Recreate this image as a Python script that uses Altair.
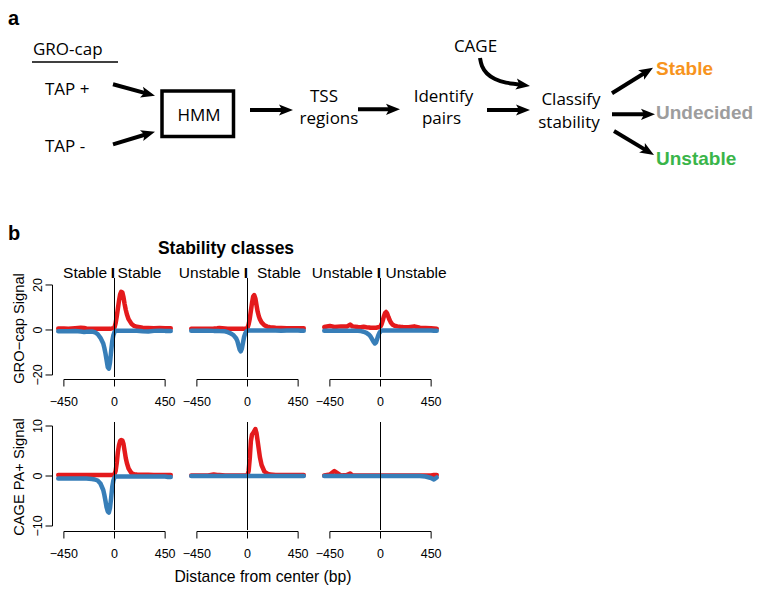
import math
import altair as alt
import pandas as pd

FONT_A = "Open Sans"
FONT_B = "Liberation Sans"
RED = "#E41A1C"
BLUE = "#377EB8"

# ---------------- panel a : flow diagram (figure pixel coordinates) ----------------
panel_letters = ["a", "b"]
panel_letter_x = [8, 8]
panel_letter_y = [25, 240]

left_labels = ["GRO-cap", "TAP +", "TAP -"]
left_label_x = [33, 45, 45]
left_label_y = [55, 95, 152]

center_labels = ["HMM", "TSS", "regions", "Identify", "pairs", "CAGE", "Classify", "stability"]
center_label_x = [199, 324, 329, 443.5, 441.5, 475.5, 571, 569]
center_label_y = [121, 102, 124, 101.5, 124, 51.5, 105, 128]

outcome_labels = ["Stable", "Undecided", "Unstable"]
outcome_colors = ["#F7941D", "#9D9D9D", "#3AB54A"]
outcome_x = [656, 656, 656]
outcome_y = [74.5, 119, 165]

arrow_x0 = [113, 113, 250, 358, 487, 612, 612, 614]
arrow_y0 = [84.3, 144.3, 110, 109.3, 110, 93.3, 114.3, 131]
arrow_x1 = [155, 155, 293, 400, 530, 653, 655, 654]
arrow_y1 = [95.7, 131.7, 110, 109.3, 110, 67.7, 114.3, 155]

curve_x = [480, 482, 487, 495, 506, 530]
curve_y = [58, 66, 73.5, 79, 82.6, 86]

box_x = [162, 233.5]
box_y = [91, 136.5]
underline_x = [32, 118]
underline_y = [62]

heading = ["Stability classes"]
heading_x = [226]
heading_y = [254]

# ---------------- panel b : signal profiles ----------------
positions = [-500, -450, -410, -350, -300, -270, -250, -200, -175, -150, -125,
             -100, -90, -80, -70, -60, -50, -40, -30, -20, -10,
             0, 10, 20, 30, 40, 50, 60, 70, 80, 90,
             100, 110, 125, 150, 175, 200, 250, 300, 350, 400, 450, 475, 500]

gro_ss_plus = [0.7, 0.7, 0.6, 0.8, 1.0, 0.9, 0.7, 0.6, 0.6, 0.5, 0.5,
               0.5, 0.5, 0.5, 0.5, 0.5, 0.5, 0.5, 0.6, 0.7, 0.8,
               1.2, 3.0, 6.0, 9.5, 13.0, 15.8, 17.0, 16.6, 14.5, 11.5,
               9.0, 7.0, 4.8, 2.8, 1.8, 1.4, 1.0, 0.9, 0.8, 0.9, 0.8, 0.8, 0.8]
gro_ss_minus = [-0.6, -0.6, -0.6, -0.5, -0.7, -0.9, -0.8, -0.7, -1.0, -1.8, -3.5,
                -6.0, -8.0, -10.5, -13.5, -16.5, -17.2, -14.5, -9.5, -5.0, -2.3,
                -0.9, -0.4, -0.3, -0.3, -0.3, -0.3, -0.3, -0.3, -0.3, -0.3,
                -0.3, -0.3, -0.3, -0.3, -0.3, -0.3, -0.6, -0.7, -0.4, -0.3, -0.4, -0.4, -0.4]
gro_us_plus = [0.5, 0.5, 0.5, 0.6, 0.7, 0.8, 0.9, 0.7, 0.6, 0.6, 0.6,
               0.5, 0.5, 0.5, 0.5, 0.5, 0.5, 0.5, 0.6, 0.6, 0.7,
               1.0, 2.5, 5.0, 8.5, 12.0, 14.8, 15.5, 14.0, 11.0, 8.2,
               6.2, 4.8, 3.4, 2.1, 1.5, 1.2, 1.0, 0.9, 0.8, 0.8, 0.8, 0.8, 0.8]
gro_us_minus = [-0.3, -0.3, -0.3, -0.3, -0.4, -0.4, -0.5, -0.6, -1.0, -1.5, -2.3,
                -3.8, -5.0, -6.8, -8.7, -9.5, -8.3, -5.6, -3.0, -1.5, -0.7,
                -0.3, -0.2, -0.2, -0.2, -0.2, -0.2, -0.2, -0.2, -0.2, -0.2,
                -0.2, -0.2, -0.2, -0.2, -0.2, -0.2, -0.2, -0.3, -0.2, -0.2, -0.2, -0.3, -0.3]
gro_uu_plus = [1.3, 1.8, 1.3, 1.6, 1.5, 2.4, 1.6, 1.3, 1.2, 1.4, 1.2,
               1.1, 1.0, 1.0, 1.0, 1.0, 1.0, 1.0, 1.1, 1.2, 1.3,
               1.6, 2.6, 4.2, 6.0, 7.5, 8.0, 7.2, 5.8, 4.5, 3.5,
               2.8, 2.3, 1.9, 1.6, 1.4, 1.3, 1.2, 1.6, 1.0, 0.9, 0.8, 0.7, 0.6]
gro_uu_minus = [-0.3, -0.3, -0.3, -0.3, -0.3, -0.3, -0.3, -0.4, -0.5, -0.8, -1.3,
                -2.2, -2.8, -3.6, -4.5, -5.4, -6.0, -5.6, -4.0, -2.4, -1.3,
                -0.6, -0.3, -0.2, -0.2, -0.2, -0.2, -0.2, -0.2, -0.2, -0.2,
                -0.2, -0.2, -0.2, -0.2, -0.2, -0.2, -0.2, -0.2, -0.2, -0.2, -0.2, -0.3, -0.3]

cage_ss_plus = [0.2, 0.2, 0.2, 0.2, 0.2, 0.2, 0.2, 0.2, 0.2, 0.2, 0.2,
                0.2, 0.2, 0.2, 0.2, 0.2, 0.2, 0.2, 0.2, 0.2, 0.2,
                0.4, 1.0, 2.6, 4.8, 6.2, 7.0, 7.2, 7.1, 6.4, 5.0,
                3.6, 2.6, 1.5, 0.6, 0.35, 0.3, 0.25, 0.25, 0.2, 0.2, 0.2, 0.2, 0.2]
cage_ss_minus = [-0.5, -0.5, -0.5, -0.5, -0.5, -0.5, -0.5, -0.6, -0.7, -0.9, -1.5,
                 -2.8, -3.8, -5.0, -6.3, -7.1, -7.3, -6.4, -4.4, -2.2, -0.9,
                 -0.3, -0.1, -0.1, -0.1, -0.1, -0.1, -0.1, -0.1, -0.1, -0.1,
                 -0.1, -0.1, -0.1, -0.1, -0.1, -0.1, -0.1, -0.1, -0.1, -0.1, -0.1, -0.2, -0.2]
cage_us_plus = [0.1, 0.1, 0.1, 0.1, 0.3, 0.2, 0.2, 0.1, 0.1, 0.1, 0.1,
                0.1, 0.1, 0.1, 0.1, 0.1, 0.1, 0.1, 0.1, 0.1, 0.1,
                0.2, 1.0, 3.5, 7.0, 8.3, 8.6, 9.0, 9.4, 8.6, 7.0,
                5.4, 3.8, 2.2, 0.9, 0.5, 0.3, 0.2, 0.2, 0.2, 0.2, 0.2, 0.2, 0.2]
cage_us_minus = [0.0, 0.0, 0.0, 0.0, 0.0, 0.0, 0.0, 0.0, 0.0, 0.0, 0.0,
                 0.0, 0.0, 0.0, 0.0, 0.0, 0.0, 0.0, 0.0, 0.0, 0.0,
                 0.0, 0.0, 0.0, 0.0, 0.0, 0.0, 0.0, 0.0, 0.0, 0.0,
                 0.0, 0.0, 0.0, 0.0, 0.0, 0.0, 0.0, 0.0, 0.0, 0.0, 0.0, 0.0, 0.0]
cage_uu_plus = [0.1, 0.3, 1.0, 0.1, 0.2, 0.5, 0.1, 0.1, 0.1, 0.1, 0.1,
                0.1, 0.1, 0.1, 0.1, 0.1, 0.1, 0.1, 0.1, 0.1, 0.1,
                0.1, 0.1, 0.1, 0.1, 0.1, 0.1, 0.1, 0.1, 0.1, 0.1,
                0.1, 0.1, 0.1, 0.1, 0.1, 0.1, 0.1, 0.1, 0.1, 0.1, 0.1, 0.2, 0.2]
cage_uu_minus = [0.0, 0.0, 0.0, 0.0, 0.0, 0.0, 0.0, 0.0, 0.0, 0.0, 0.0,
                 0.0, 0.0, 0.0, 0.0, 0.0, 0.0, 0.0, 0.0, 0.0, 0.0,
                 0.0, 0.0, 0.0, 0.0, 0.0, 0.0, 0.0, 0.0, 0.0, 0.0,
                 0.0, 0.0, 0.0, 0.0, 0.0, 0.0, 0.0, 0.0, 0.0,
                 -0.1, -0.4, -0.7, -0.3]

x_ticks = [-450, 0, 450]
gro_ticks = [-20, 0, 20]
cage_ticks = [-10, 0, 10]
row_titles = ["GRO\u2212cap Signal", "CAGE PA+ Signal"]
x_title = "Distance from center (bp)"
left_class = ["Stable", "Unstable", "Unstable"]
right_class = ["Stable", "Stable", "Unstable"]
right_class_dx = [3, 9.5, 5]

_series = dict(gro_ss_plus=gro_ss_plus, gro_ss_minus=gro_ss_minus, gro_us_plus=gro_us_plus,
               gro_us_minus=gro_us_minus, gro_uu_plus=gro_uu_plus, gro_uu_minus=gro_uu_minus,
               cage_ss_plus=cage_ss_plus, cage_ss_minus=cage_ss_minus, cage_us_plus=cage_us_plus,
               cage_us_minus=cage_us_minus, cage_uu_plus=cage_uu_plus, cage_uu_minus=cage_uu_minus)
_bad = {k: len(v) for k, v in _series.items() if len(v) != len(positions)}
assert not _bad, _bad

# ---------------- build panel a ----------------
DX = alt.Scale(domain=[56, 754], nice=False, zero=False)
DY = alt.Scale(domain=[8, 262], nice=False, zero=False, reverse=True)
HEAD_BACK = 9
ARROW_PATH = "M0,0 L-2,-0.8 L-1.55,0 L-2,0.8 Z"


def direction(xa, ya, xb, yb):
    d = math.hypot(xb - xa, yb - ya)
    return (xb - xa) / d, (yb - ya) / d


shaft_rows, head_rows = [], []
for x0, y0, x1, y1 in zip(arrow_x0, arrow_y0, arrow_x1, arrow_y1):
    ux, uy = direction(x0, y0, x1, y1)
    shaft_rows.append({"x0": x0, "y0": y0, "x1": x1 - HEAD_BACK * ux, "y1": y1 - HEAD_BACK * uy})
    head_rows.append({"x": x1, "y": y1, "ang": math.degrees(math.atan2(uy, ux)) % 360})

cux, cuy = direction(curve_x[-2], curve_y[-2], curve_x[-1], curve_y[-1])
head_rows.append({"x": curve_x[-1], "y": curve_y[-1], "ang": math.degrees(math.atan2(cuy, cux)) % 360})
curve_df = pd.DataFrame({"x": curve_x[:-1] + [curve_x[-1] - HEAD_BACK * cux],
                         "y": curve_y[:-1] + [curve_y[-1] - HEAD_BACK * cuy]})


def dxy(f="x", g="y"):
    return dict(x=alt.X(f"{f}:Q", scale=DX, axis=None), y=alt.Y(f"{g}:Q", scale=DY, axis=None))


shafts = alt.Chart(pd.DataFrame(shaft_rows)).mark_rule(color="black", strokeWidth=4).encode(
    x2="x1:Q", y2="y1:Q", **dxy("x0", "y0"))
heads = alt.Chart(pd.DataFrame(head_rows)).mark_point(
    shape=ARROW_PATH, filled=True, size=196, color="black", opacity=1, strokeWidth=0).encode(
    angle=alt.Angle("ang:Q", scale=None), **dxy())
curve = alt.Chart(curve_df).mark_line(color="black", strokeWidth=4, interpolate="natural").encode(**dxy())
box = alt.Chart(pd.DataFrame({"x": [box_x[0]], "x2": [box_x[1]], "y": [box_y[0]], "y2": [box_y[1]]})).mark_rect(
    fillOpacity=0, stroke="black", strokeWidth=3.5).encode(x2="x2:Q", y2="y2:Q", **dxy())
uline = alt.Chart(pd.DataFrame({"x": [underline_x[0]], "x2": [underline_x[1]], "y": underline_y})).mark_rule(
    color="black", strokeWidth=1.5).encode(x2="x2:Q", **dxy())

t_left = alt.Chart(pd.DataFrame({"x": left_label_x, "y": left_label_y, "t": left_labels})).mark_text(
    align="left", baseline="alphabetic", font=FONT_A, fontSize=17, color="black").encode(text="t:N", **dxy())
t_center = alt.Chart(pd.DataFrame({"x": center_label_x, "y": center_label_y, "t": center_labels})).mark_text(
    align="center", baseline="alphabetic", font=FONT_A, fontSize=17, color="black").encode(text="t:N", **dxy())
t_out = alt.Chart(pd.DataFrame({"x": outcome_x, "y": outcome_y, "t": outcome_labels, "c": outcome_colors})).mark_text(
    align="left", baseline="alphabetic", font=FONT_B, fontSize=19, fontWeight="bold").encode(
    text="t:N", color=alt.Color("c:N", scale=None), **dxy())
t_letters = alt.Chart(pd.DataFrame({"x": panel_letter_x, "y": panel_letter_y, "t": panel_letters})).mark_text(
    align="left", baseline="alphabetic", font=FONT_B, fontSize=20, fontWeight="bold", color="black").encode(
    text="t:N", **dxy())
t_head = alt.Chart(pd.DataFrame({"x": heading_x, "y": heading_y, "t": heading})).mark_text(
    align="center", baseline="alphabetic", font=FONT_B, fontSize=17.5, fontWeight="bold", color="black").encode(
    text="t:N", **dxy())

diagram = alt.layer(box, uline, shafts, curve, heads, t_left, t_center, t_out, t_letters, t_head).properties(
    width=698, height=254)


# ---------------- build panel b (R-style axes drawn from the tick lists) ----------------
def tick_label(v):
    return str(v).replace("-", "\u2212")


def panel(plus, minus, ydomain, yticks, height, xoff, col, row):
    df = pd.DataFrame({"pos": positions, "plus": plus, "minus": minus})
    xs = alt.Scale(domain=[-520, 520], nice=False, zero=False)
    ys = alt.Scale(domain=ydomain, nice=False, zero=False)
    X = lambda f: alt.X(f, scale=xs, axis=None)
    Y = lambda f: alt.Y(f, scale=ys, axis=None)

    red = alt.Chart(df).mark_line(color=RED, strokeWidth=4.5, strokeJoin="round", strokeCap="round").encode(
        x=X("pos:Q"), y=Y("plus:Q"))
    blue = alt.Chart(df).mark_line(color=BLUE, strokeWidth=4.5, strokeJoin="round", strokeCap="round").encode(
        x=X("pos:Q"), y=Y("minus:Q"))
    cdf = pd.DataFrame({"c": [0]})
    center = alt.Chart(cdf).mark_rule(color="black", strokeWidth=1).encode(x=X("c:Q"))

    axis_y = height + xoff + 0.5
    xt = pd.DataFrame({"v": x_ticks, "lab": [tick_label(v) for v in x_ticks]})
    xline = alt.Chart(pd.DataFrame({"a": [x_ticks[0]], "b": [x_ticks[-1]]})).mark_rule(
        color="black", strokeWidth=1).encode(x=X("a:Q"), x2="b:Q", y=alt.value(axis_y))
    xtick = alt.Chart(xt).mark_rule(color="black", strokeWidth=1).encode(
        x=X("v:Q"), y=alt.value(axis_y), y2=alt.value(axis_y + 7))
    xlab = alt.Chart(xt).mark_text(align="center", baseline="alphabetic", font=FONT_B, fontSize=12.5,
                                   color="black").encode(x=X("v:Q"), y=alt.value(axis_y + 26), text="lab:N")
    layers = [red, blue, center, xline, xtick, xlab]

    if col == 0:
        yt = pd.DataFrame({"v": yticks, "lab": [tick_label(v) for v in yticks]})
        yline = alt.Chart(pd.DataFrame({"a": [yticks[0]], "b": [yticks[-1]]})).mark_rule(
            color="black", strokeWidth=1).encode(y=Y("a:Q"), y2="b:Q", x=alt.value(-3.5))
        ytick = alt.Chart(yt).mark_rule(color="black", strokeWidth=1).encode(
            y=Y("v:Q"), x=alt.value(-3.5), x2=alt.value(-10.5))
        ylab = alt.Chart(yt).mark_text(angle=270, align="center", baseline="alphabetic", font=FONT_B,
                                       fontSize=12.5, color="black").encode(
            y=Y("v:Q"), x=alt.value(-14.5), text="lab:N")
        ytitle = alt.Chart(cdf).mark_text(text=row_titles[row], angle=270, align="center", baseline="alphabetic",
                                          font=FONT_B, fontSize=14.7, color="black").encode(
            x=alt.value(-32), y=alt.value(height / 2 + 1))
        layers += [yline, ytick, ylab, ytitle]

    if row == 1 and col == 1:
        xtitle = alt.Chart(cdf).mark_text(text=x_title, align="center", baseline="alphabetic", font=FONT_B,
                                          fontSize=15.7, color="black").encode(
            x=alt.value(74), y=alt.value(height + 51.5))
        layers.append(xtitle)

    if row == 0:
        lab_l = alt.Chart(cdf).mark_text(text=left_class[col], align="right", dx=-7.5, baseline="alphabetic",
                                         font=FONT_B, fontSize=15.5, color="black").encode(
            x=X("c:Q"), y=alt.value(-0.5))
        lab_bar = alt.Chart(cdf).mark_text(text="I", align="center", dx=-1.5, baseline="alphabetic",
                                           font=FONT_B, fontSize=15.5, fontWeight="bold", color="black").encode(
            x=X("c:Q"), y=alt.value(-0.5))
        lab_r = alt.Chart(cdf).mark_text(text=right_class[col], align="left", dx=right_class_dx[col],
                                         baseline="alphabetic", font=FONT_B, fontSize=15.5, color="black").encode(
            x=X("c:Q"), y=alt.value(-0.5))
        layers += [lab_l, lab_bar, lab_r]
    return alt.layer(*layers).properties(width=117, height=height)


gro_sets = [(gro_ss_plus, gro_ss_minus), (gro_us_plus, gro_us_minus), (gro_uu_plus, gro_uu_minus)]
cage_sets = [(cage_ss_plus, cage_ss_minus), (cage_us_plus, cage_us_minus), (cage_uu_plus, cage_uu_minus)]

panels = [panel(p, m, [-20.9, 23.1], gro_ticks, 99, 2, i, 0) for i, (p, m) in enumerate(gro_sets)]
panels += [panel(p, m, [-10.8, 10.8], cage_ticks, 108, 1, i, 1) for i, (p, m) in enumerate(cage_sets)]
grid = alt.concat(*panels, columns=3, spacing={"row": 45, "column": 16}, bounds="flush")

chart = alt.vconcat(diagram, grid, spacing=16, bounds="flush", padding=0).configure_view(strokeWidth=0)
chart.save("out.html", embed_options={"renderer": "svg", "actions": False})
